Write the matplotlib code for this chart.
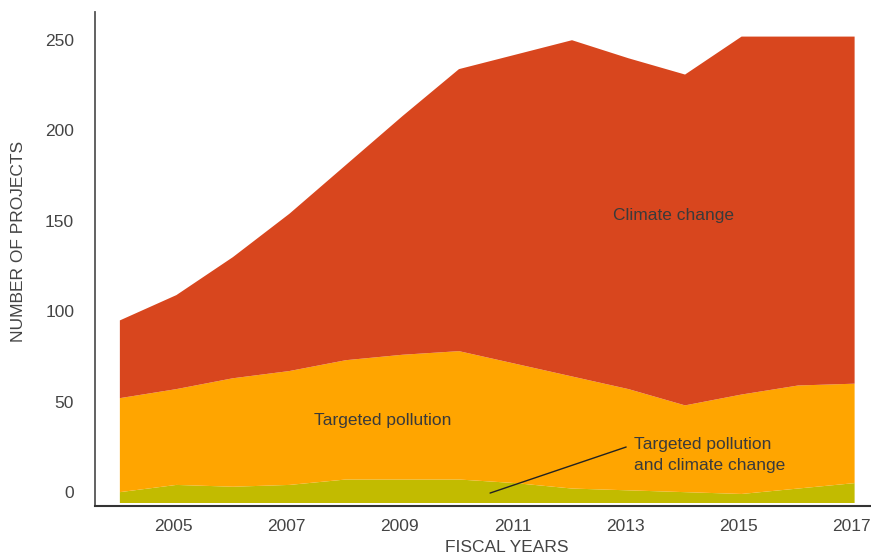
import numpy as np
import matplotlib
matplotlib.use("Agg")
import matplotlib.pyplot as plt
from matplotlib.transforms import ScaledTranslation

# Number of projects per fiscal year (stacked)
years = np.arange(2004, 2018)
both = [6, 10, 9, 10, 13, 13, 13, 11, 8, 7, 6, 5, 8, 11]
pollution = [52, 53, 60, 63, 66, 69, 71, 66, 62, 56, 48, 55, 57, 55]
climate = [43, 52, 67, 87, 108, 132, 156, 171, 186, 183, 183, 198, 193, 192]

series_labels = ["Targeted pollution\nand climate change", "Targeted pollution", "Climate change"]
colors = ["#C2BB00", "#FFA500", "#D8461E"]
yticks = [0, 50, 100, 150, 200, 250]
xticks = [2005, 2007, 2009, 2011, 2013, 2015, 2017]

plt.rcParams["font.family"] = ["Liberation Sans", "DejaVu Sans"]
TXT = "#444444"

fig = plt.figure(figsize=(8.71, 5.55), dpi=100)
ax = fig.add_axes([95 / 871, 49 / 555, 776 / 871, 494 / 555])

ax.stackplot(years, both, pollution, climate, colors=colors, linewidth=0)

ax.set_xlim(2003.56, 2017.29)
ax.set_ylim(-1.66, 271.6)

for s in ["top", "right"]:
    ax.spines[s].set_visible(False)
ax.spines["left"].set_color("#555555")
ax.spines["bottom"].set_color("#333333")
ax.spines["left"].set_linewidth(1.3)
ax.spines["bottom"].set_linewidth(1.5)

ax.set_yticks(yticks)
ax.set_xticks(xticks)
ax.tick_params(axis="both", length=0, labelsize=12.5, labelcolor=TXT)
ax.tick_params(axis="y", pad=15)
ax.tick_params(axis="x", pad=9.5)
# labels sit a little above / left of their data positions in the original
for lab in ax.get_yticklabels():
    lab.set_transform(lab.get_transform() + ScaledTranslation(0, 0.11, fig.dpi_scale_trans))
for lab in ax.get_xticklabels():
    lab.set_transform(lab.get_transform() + ScaledTranslation(-0.03, 0, fig.dpi_scale_trans))

ax.set_xlabel("FISCAL YEARS", fontsize=12.5, color=TXT, va="center")
ax.set_ylabel("NUMBER OF PROJECTS", fontsize=12.5, color=TXT, va="center")
ax.xaxis.set_label_coords(0.531, -0.083)
ax.yaxis.set_label_coords(-0.099, 0.536)

# series labels inside the areas
ax.text(2013.79, 159.3, series_labels[2], fontsize=12.5, color="#3a3a3a",
        ha="center", va="center")
ax.text(2008.65, 45.5, series_labels[1], fontsize=12.5, color="#3a3a3a",
        ha="center", va="center")
ax.annotate(series_labels[0], xy=(2010.55, 5.5), xytext=(2013.1, 26.5),
            fontsize=12.5, color="#3a3a3a", ha="left", va="center",
            linespacing=1.5,
            arrowprops=dict(arrowstyle="-", color="#222222", lw=1,
                            relpos=(0, 0.8), shrinkA=4, shrinkB=0))

fig.savefig("out.png", dpi=100)
